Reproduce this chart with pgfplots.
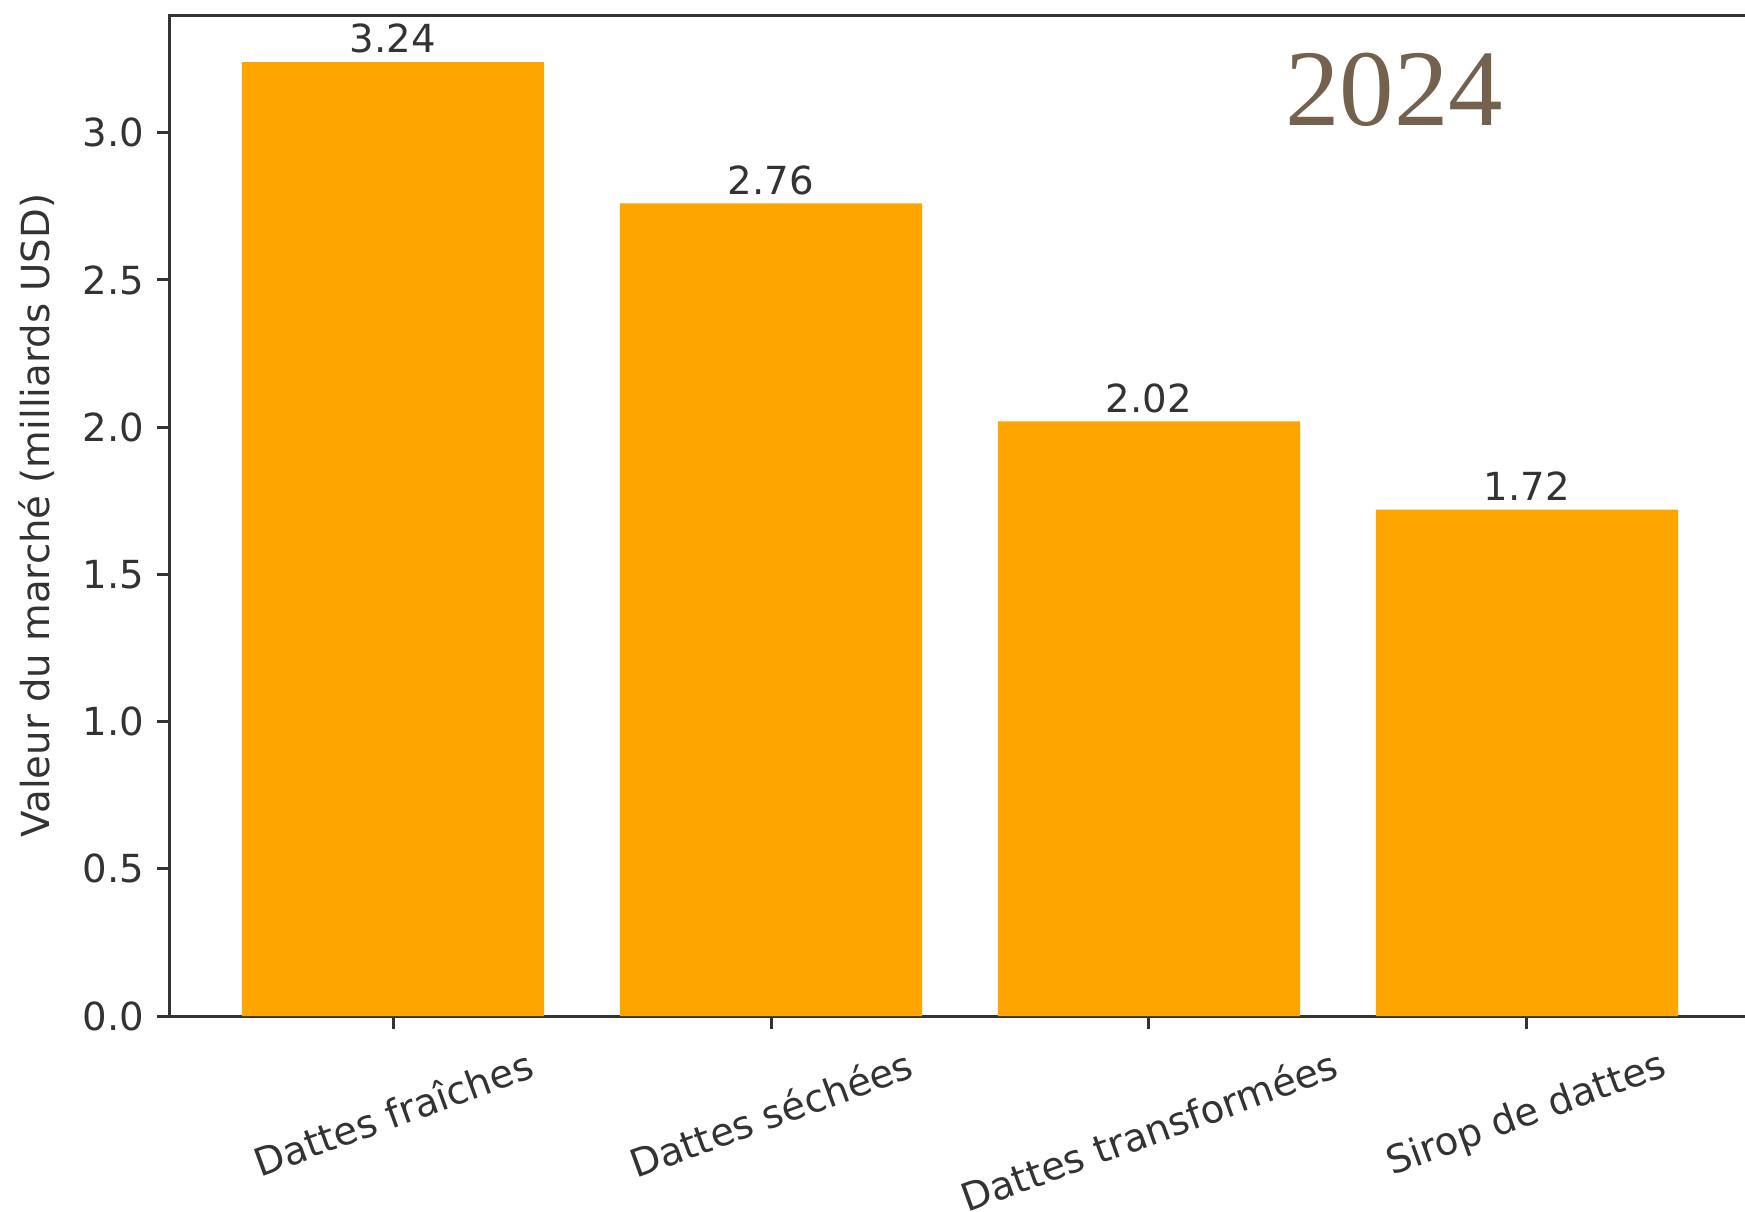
\documentclass[border=0pt]{standalone}
\usepackage{pgfplots}
\pgfplotsset{compat=1.18}
\usepackage{graphicx}
\usepackage{fontspec}
\setmainfont{DejaVu Sans}
\newfontfamily\yearfont{Liberation Serif}
\definecolor{barorange}{HTML}{FFA500}
\definecolor{yearbrown}{HTML}{74624F}
\definecolor{txt}{HTML}{333333}
\begin{document}
\fontsize{11pt}{13pt}\selectfont
\begin{tikzpicture}[x=1cm,y=1cm]
\begin{axis}[
  at={(1.70cm,1.95cm)}, anchor=south west,
  scale only axis, width=15.80cm, height=10.01cm,
  xmin=-0.59, xmax=3.59, ymin=0, ymax=3.40,
  xtick={0,1,2,3},
  xticklabels={{\rotatebox{20}{Dattes fraîches}},{\rotatebox{20}{Dattes séchées}},{\rotatebox{20}{Dattes transformées}},{\rotatebox{20}{Sirop de dattes}}},
  ytick={0,0.5,1,1.5,2,2.5,3},
  yticklabel style={/pgf/number format/fixed, /pgf/number format/fixed zerofill, /pgf/number format/precision=1},
  /pgf/number format/assume math mode=true,
  tick align=outside, tick pos=left,
  major tick length=0.13cm,
  every tick/.style={line width=0.03cm, txt},
  axis line style={line width=0.03cm, txt},
  tick label style={font=\fontsize{11}{13}\selectfont, text=txt},
  xticklabel style={anchor=north, inner sep=0pt, yshift=-0.18cm},
  yticklabel style={anchor=east, inner sep=0pt, xshift=-0.12cm},
  ylabel={Valeur du marché (milliards USD)},
  every axis y label/.style={at={(axis description cs:0,0.5)}, xshift=-1.33cm, rotate=90, anchor=center, font=\fontsize{11}{13}\selectfont, text=txt},
  nodes near coords={\pgfmathprintnumber[fixed,fixed zerofill,precision=2]{\pgfplotspointmeta}},
  nodes near coords style={anchor=south, inner sep=0pt, yshift=0.08cm, font=\fontsize{11}{13}\selectfont, text=txt},
]
\addplot[ybar, bar width=0.8, fill=barorange, draw=none] coordinates {(0,3.24) (1,2.76) (2,2.02) (3,1.72)};
\end{axis}
\node[anchor=base, text=yearbrown, font=\yearfont\fontsize{31}{31}\selectfont, inner sep=0pt] at (13.94,10.86) {2024};
\pgfresetboundingbox
\useasboundingbox (0,0) rectangle (17.45,12.11);
\end{tikzpicture}
\end{document}
